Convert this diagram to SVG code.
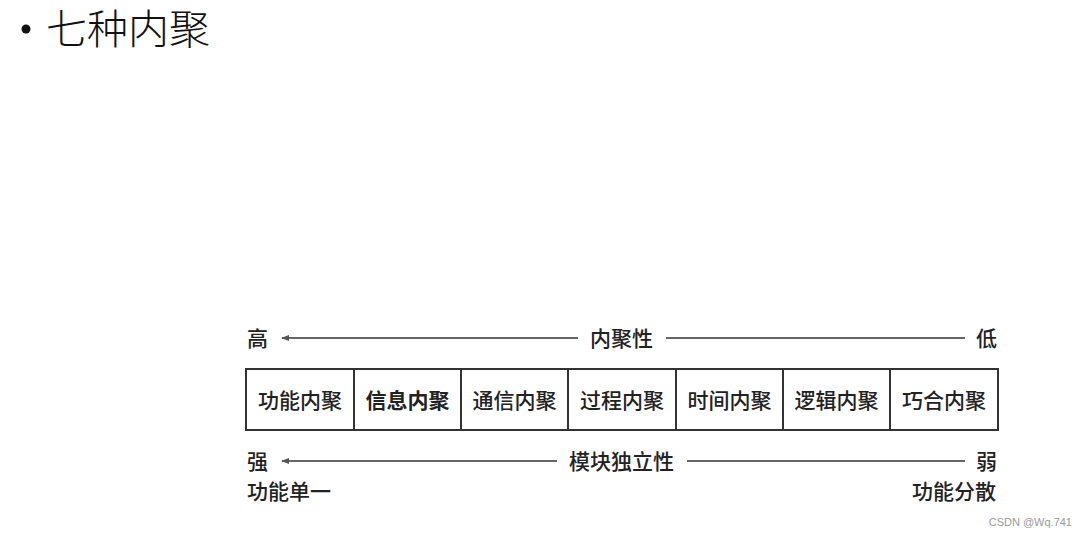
<svg xmlns="http://www.w3.org/2000/svg" width="1087" height="538" viewBox="0 0 1087 538">
<defs>
<style>
.t{font-family:"Noto Sans CJK SC","Noto Sans",sans-serif;font-size:21px;fill:#222;font-weight:500}
.b{font-weight:700}
.cell{fill:#fff;stroke:#333;stroke-width:2}
.ln{stroke:#666;stroke-width:2;fill:none}
</style>
<marker id="ah" markerWidth="8" markerHeight="6" refX="1" refY="3" orient="auto" markerUnits="userSpaceOnUse">
<path d="M8,0 L0,3 L8,6 Z" fill="#555"/>
</marker>
</defs>
<rect width="1087" height="538" fill="#fff"/>
<g id="title">
<circle cx="26" cy="29" r="4.5" fill="#111"/>
<text x="46" y="44" font-family="Noto Sans CJK SC,sans-serif" font-size="41" font-weight="300" fill="#111">七种内聚</text>
</g>
<g id="connectors">
<line class="ln" x1="282" y1="338" x2="578" y2="338" marker-start="url(#ah)"/>
<line class="ln" x1="666" y1="338" x2="965" y2="338"/>
<line class="ln" x1="282" y1="461" x2="557" y2="461" marker-start="url(#ah)"/>
<line class="ln" x1="687" y1="461" x2="965" y2="461"/>
</g>
<g id="labels">
<text class="t" x="247" y="346">高</text>
<text class="t" x="590" y="346">内聚性</text>
<text class="t" x="976" y="346">低</text>
<text class="t" x="247" y="469">强</text>
<text class="t" x="569" y="469">模块独立性</text>
<text class="t" x="976" y="469">弱</text>
<text class="t" x="247" y="499">功能单一</text>
<text class="t" x="912" y="499">功能分散</text>
</g>
<g id="cell1"><rect class="cell" x="246" y="369" width="108" height="61"/><text class="t" x="300" y="408" text-anchor="middle">功能内聚</text></g>
<g id="cell2"><rect class="cell" x="354" y="369" width="107" height="61"/><text class="t b" x="407.5" y="408" text-anchor="middle">信息内聚</text></g>
<g id="cell3"><rect class="cell" x="461" y="369" width="107" height="61"/><text class="t" x="514.5" y="408" text-anchor="middle">通信内聚</text></g>
<g id="cell4"><rect class="cell" x="568" y="369" width="108" height="61"/><text class="t" x="622" y="408" text-anchor="middle">过程内聚</text></g>
<g id="cell5"><rect class="cell" x="676" y="369" width="107" height="61"/><text class="t" x="729.5" y="408" text-anchor="middle">时间内聚</text></g>
<g id="cell6"><rect class="cell" x="783" y="369" width="107" height="61"/><text class="t" x="836.5" y="408" text-anchor="middle">逻辑内聚</text></g>
<g id="cell7"><rect class="cell" x="890" y="369" width="108" height="61"/><text class="t" x="944" y="408" text-anchor="middle">巧合内聚</text></g>
<text x="1072" y="526" text-anchor="end" font-family="Liberation Sans,sans-serif" font-size="11" fill="#999">CSDN @Wq.741</text>
</svg>
